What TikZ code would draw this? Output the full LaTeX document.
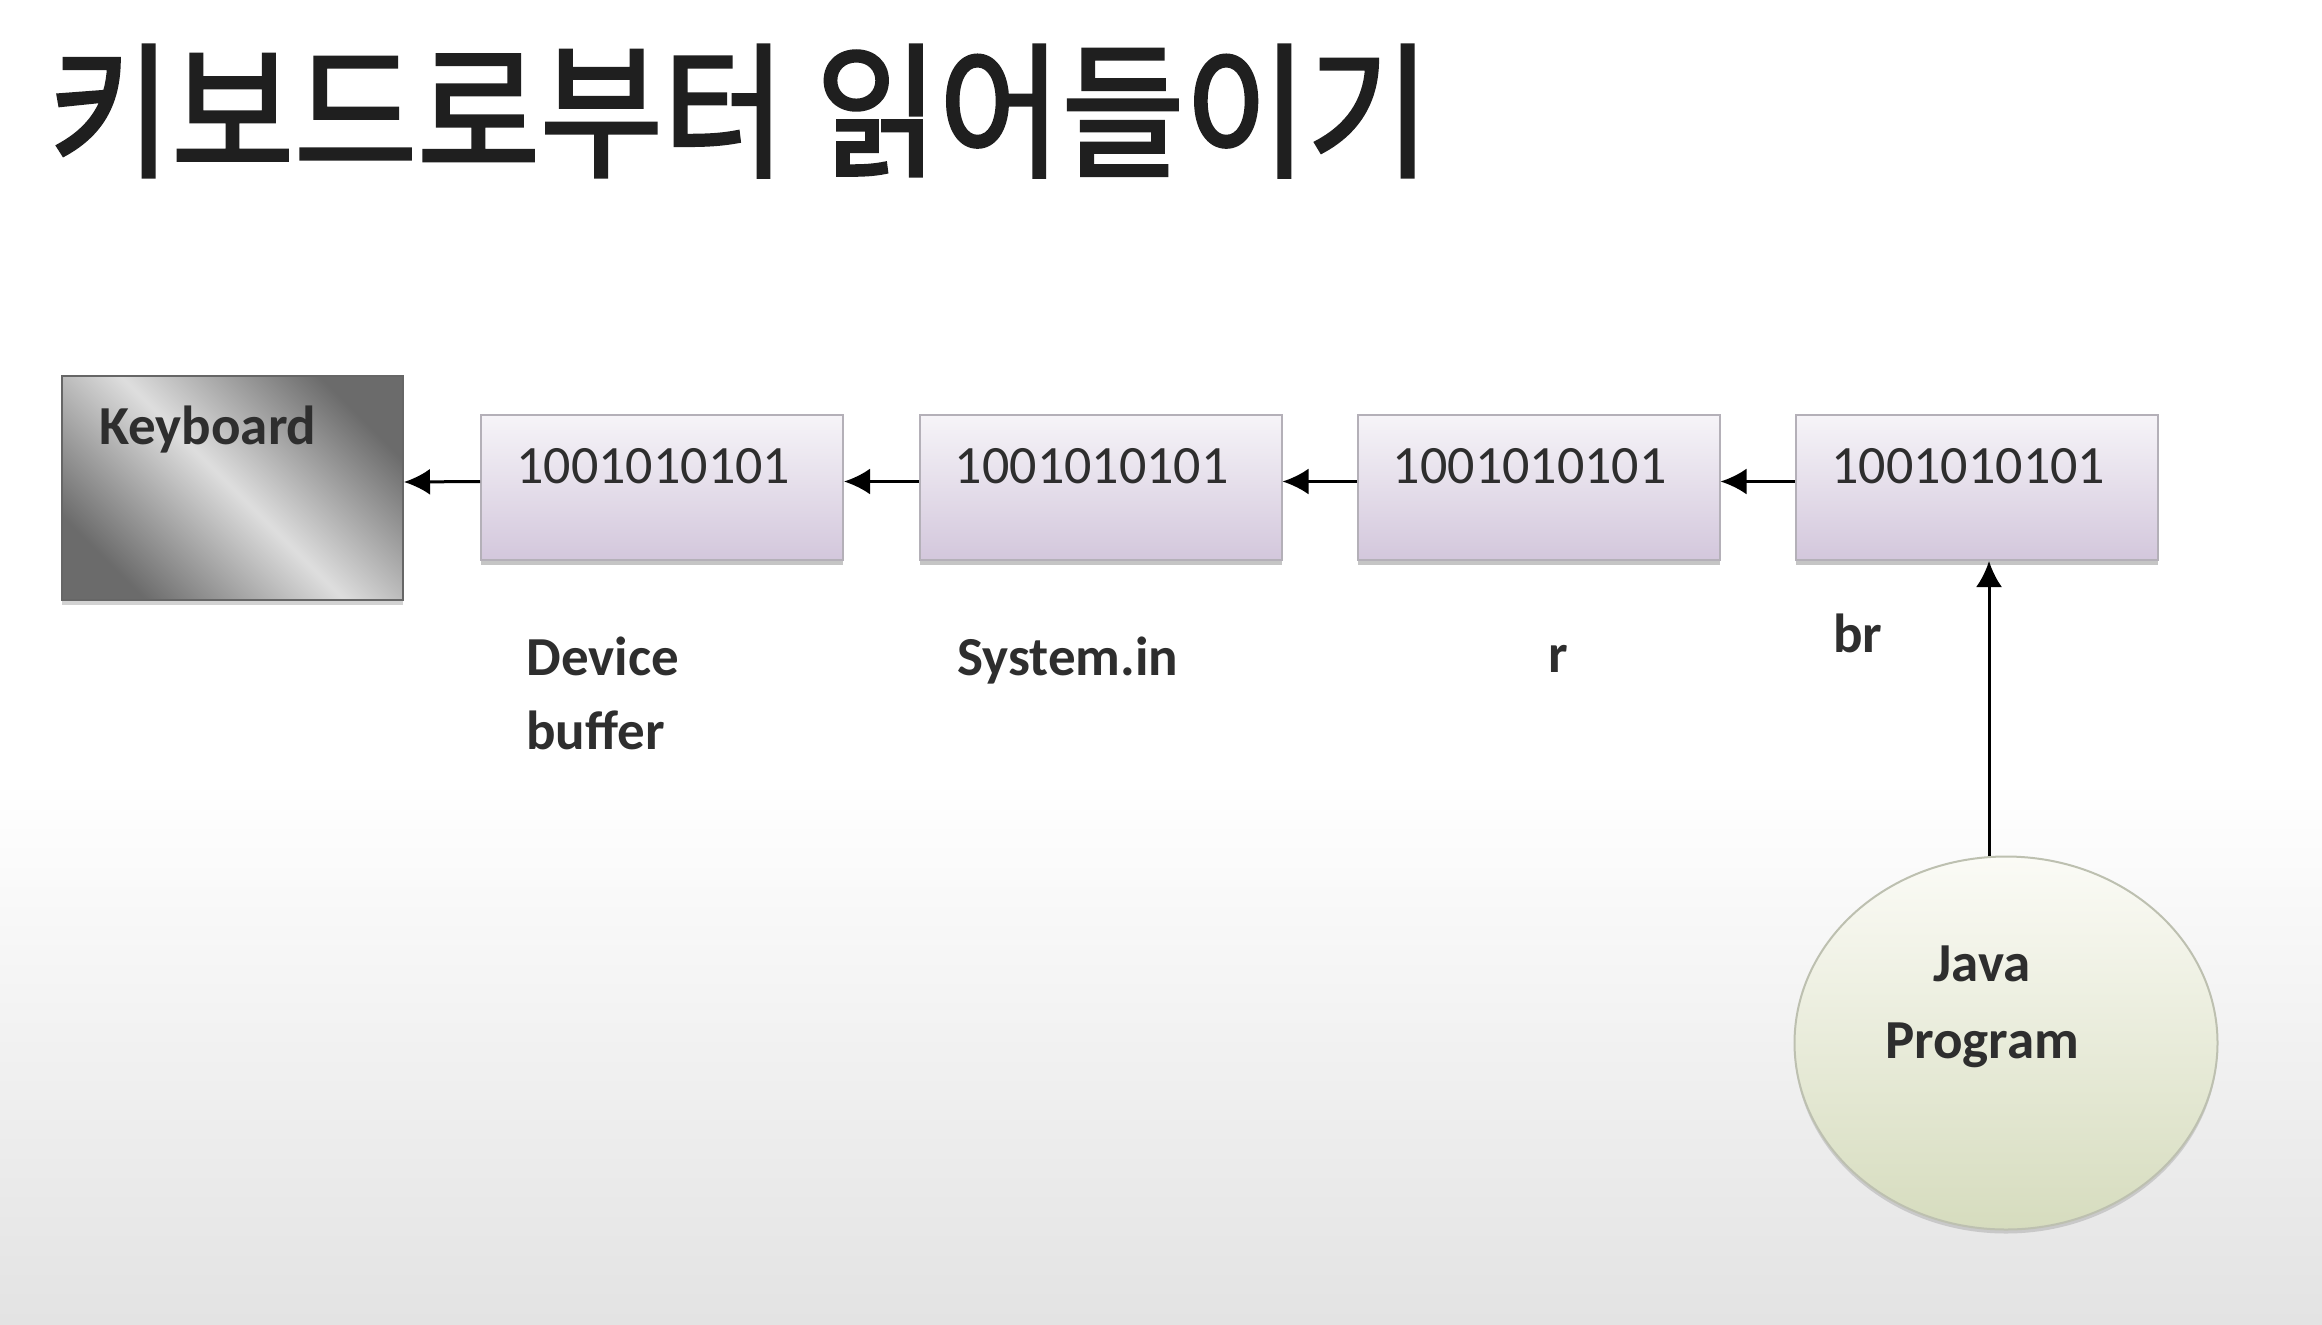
\documentclass[tikz,border=0pt]{standalone}
\usepackage{fontspec}
\setmainfont{Carlito}
\newfontfamily\kr{Noto Sans CJK KR}[FakeBold=2.2]
\usetikzlibrary{arrows.meta,shadows,shapes.geometric}
\definecolor{txt}{HTML}{2E2E2E}
\definecolor{boxtop}{HTML}{F6F4F8}
\definecolor{boxbot}{HTML}{D3C7DC}
\definecolor{boxline}{HTML}{B4B0B8}
\definecolor{elltop}{HTML}{FBFBF6}
\definecolor{ellbot}{HTML}{D6DCBE}
\definecolor{ellline}{HTML}{BDC0B0}
\begin{document}
\begin{tikzpicture}[x=0.5pt,y=-0.5pt,
  every node/.style={text=txt},
  lblfont/.style={font=\bfseries\fontsize{27.5}{37}\selectfont},
  numfont/.style={font=\fontsize{27}{32}\selectfont},
  databox/.style={draw=boxline, line width=1pt, top color=boxtop, bottom color=boxbot,
     minimum width=181pt, minimum height=72.5pt, inner sep=0pt,
     drop shadow={shadow xshift=0pt, shadow yshift=-2.5pt, opacity=0.45, fill=gray}},
  numlbl/.style={numfont, anchor=base west, inner sep=0pt, xshift=18pt, yshift=-34.5pt},
  arr/.style={-{Latex[length=13pt,width=13pt]}, line width=1.5pt, draw=black},
  caption/.style={lblfont, anchor=north west, inner sep=0pt, align=left}
]
\useasboundingbox (0,0) rectangle (2322,1324);
% background
\fill[white] (0,0) rectangle (2322,1324);
\shade[top color=white, bottom color=black!11] (0,780) rectangle (2322,1324);

% title
\node[anchor=west, inner sep=0pt, text=black!88] (title) at (48,111)
  {\scalebox{0.915}[1]{\kr\fontsize{73}{80}\selectfont 키보드로부터 읽어들이기}};

% keyboard
\node[draw=black!60, line width=1pt, minimum width=170.5pt, minimum height=112pt, inner sep=0pt,
      top color=black!58, bottom color=black!58, middle color=black!13, shading angle=-45,
      drop shadow={shadow xshift=0pt, shadow yshift=-2.5pt, opacity=0.35, fill=gray}]
      (kb) at (232.5,488) {};
\node[lblfont, anchor=base west, inner sep=0pt] (kbt) at (99,444) {Keyboard};

% data boxes
\node[databox, label={[numlbl]north west:1001010101}] (b1) at (662,487.5) {};
\node[databox, label={[numlbl]north west:1001010101}] (b2) at (1100.5,487.5) {};
\node[databox, label={[numlbl]north west:1001010101}] (b3) at (1538.5,487.5) {};
\node[databox, label={[numlbl]north west:1001010101}] (b4) at (1977,487.5) {};

% arrows between boxes
\draw[arr] ([yshift=3pt]b1.west) -- ([yshift=3pt]kb.east);
\draw[arr] ([yshift=3pt]b2.west) -- ([yshift=3pt]b1.east);
\draw[arr] ([yshift=3pt]b3.west) -- ([yshift=3pt]b2.east);
\draw[arr] ([yshift=3pt]b4.west) -- ([yshift=3pt]b3.east);

% captions
\node[caption] (c1) at (526,636) {Device\\buffer};
\node[caption] (c2) at (957,636) {System.in};
\node[caption] (c3) at (1548,645) {r};
\node[caption] (c4) at (1833,613) {br};

% java program
\node[ellipse, draw=ellline, line width=1pt, minimum width=211.5pt, minimum height=186.5pt,
      top color=elltop, bottom color=ellbot, inner sep=0pt,
      drop shadow={shadow xshift=0pt, shadow yshift=-2pt, opacity=0.3, fill=gray},
      label={[lblfont, align=center, anchor=center, xshift=-12pt, yshift=18pt, font=\bfseries\fontsize{27.5}{38.5}\selectfont]center:Java\\Program}]
      (jp) at (2006,1043) {};
\draw[arr] ([xshift=-8.5pt]jp.north) -- ([xshift=-8.5pt]jp.north |- b4.south);
\end{tikzpicture}
\end{document}
